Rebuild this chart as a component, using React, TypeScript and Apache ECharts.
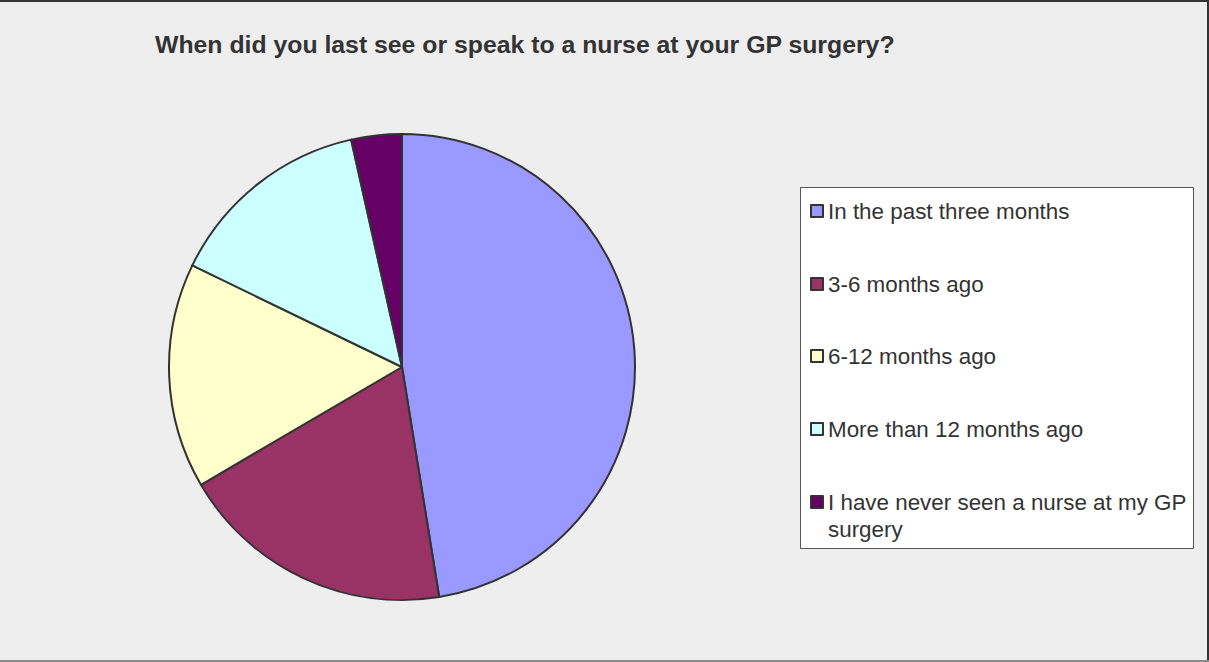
import React, { useEffect, useRef } from "react";
import * as echarts from "echarts";

const titleText = "When did you last see or speak to a nurse at your GP surgery?";
const categories = [
  "In the past three months",
  "3-6 months ago",
  "6-12 months ago",
  "More than 12 months ago",
  "I have never seen a nurse at my GP surgery",
];
const legendLabels = [
  "In the past three months",
  "3-6 months ago",
  "6-12 months ago",
  "More than 12 months ago",
  " \nI have never seen a nurse at my GP\nsurgery",
];
const values = [47.4, 19.1, 15.6, 14.3, 3.5];
const colors = ["#9999FF", "#993366", "#FFFFCC", "#CCFFFF", "#660066"];

export default function App() {
  const ref = useRef<HTMLDivElement>(null);
  useEffect(() => {
    if (!ref.current) return;
    const chart = echarts.init(ref.current, null, { renderer: "svg" });
    const legendTops = [197.5, 270.5, 342.5, 415.5, 461.5];
    const legends = categories.map((c, i) => ({
      data: [c],
      orient: "vertical",
      left: 810,
      top: legendTops[i],
      padding: 0,
      itemWidth: 12,
      itemHeight: 12,
      icon: "rect",
      selectedMode: false,
      itemStyle: { borderColor: "#333333", borderWidth: 2 },
      formatter: () => legendLabels[i],
      textStyle: {
        fontFamily: "Liberation Sans, Arial, sans-serif",
        fontSize: 22.4,
        lineHeight: 27,
        color: "#333333",
      },
    }));
    chart.setOption({
      animation: false,
      backgroundColor: "#EEEEEE",
      title: {
        text: titleText,
        left: 150,
        top: 27,
        textStyle: {
          fontFamily: "Liberation Sans, Arial, sans-serif",
          fontSize: 24.8,
          fontWeight: "bold",
          color: "#333333",
        },
      },
      legend: legends,
      graphic: [
        {
          type: "rect",
          shape: { x: 800.5, y: 187.5, width: 393, height: 361 },
          style: { fill: "#FFFFFF", stroke: "#555555", lineWidth: 1 },
          z: -1,
        },
        {
          type: "line",
          shape: { x1: 0, y1: 1, x2: 1209, y2: 1 },
          style: { stroke: "#333333", lineWidth: 2 },
        },
        {
          type: "line",
          shape: { x1: 1208, y1: 0, x2: 1208, y2: 662 },
          style: { stroke: "#333333", lineWidth: 2 },
        },
        {
          type: "line",
          shape: { x1: 0, y1: 661, x2: 1209, y2: 661 },
          style: { stroke: "#8A8A8A", lineWidth: 2 },
        },
      ],
      series: [
        {
          type: "pie",
          center: [402, 367],
          radius: [0, 233],
          startAngle: 90,
          clockwise: true,
          silent: true,
          label: { show: false },
          labelLine: { show: false },
          itemStyle: { borderColor: "#333333", borderWidth: 2 },
          data: categories.map((c, i) => ({
            name: c,
            value: values[i],
            itemStyle: { color: colors[i] },
          })),
        },
      ],
    });
    return () => chart.dispose();
  }, []);
  return (
    <div
      ref={ref}
      style={{ position: "absolute", left: 0, top: 0, width: 1209, height: 662 }}
    />
  );
}
